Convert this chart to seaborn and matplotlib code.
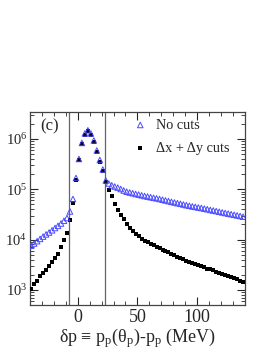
import numpy as np
import pandas as pd
import matplotlib
matplotlib.use("Agg")
import matplotlib.pyplot as plt
import seaborn as sns
from matplotlib.ticker import LogLocator, MultipleLocator, NullFormatter

# bin centres of delta p (MeV)
dp = np.arange(-39.0, 140.0, 2.5)

# counts without cuts (blue triangles)
no_cuts = [7530, 8366, 9290, 10320, 11480, 12690, 13840, 15310, 17010, 18790,
           20890, 23660, 26860, 36220, 64120, 167800, 401000, 836000, 1290000, 1490000,
           1290000, 936000, 590800, 382300, 247600, 149600, 130400, 120100, 113700, 108100,
           101400, 94650, 89600, 86340, 83600, 80700, 78500, 76000, 73600, 71600,
           69660, 67760, 66220, 64120, 62090, 60120, 58210, 56360, 54700, 52970,
           51520, 49890, 48310, 46990, 45710, 44670, 43450, 42460, 41300, 40180,
           38900, 37880, 36900, 35730, 34750, 33810, 32890, 31990, 31120, 30270,
           29450, 28510]

# counts with dx + dy cuts (black squares)
with_cuts = [1042, 1310, 1524, 1846, 2168, 2512, 2985, 3508, 4210, 5290,
             6970, 9820, 13520, 23990, 53400, 153000, 382000, 795700, 1229000, 1422000,
             1229000, 891600, 564200, 353800, 231100, 139600, 95900, 72600, 52200, 38770,
             30830, 25120, 20420, 17010, 14490, 12910, 11640, 10370, 9510, 8830,
             8250, 7640, 7190, 6740, 6350, 5930, 5540, 5170, 4830, 4570,
             4310, 4020, 3720, 3520, 3350, 3210, 3100, 2990, 2860, 2660,
             2570, 2440, 2320, 2180, 2090, 1995, 1897, 1804, 1724, 1633,
             1517, 1422]

cut_lines = [-7, 23]

df_nc = pd.DataFrame({"dp": dp, "counts": no_cuts})
df_wc = pd.DataFrame({"dp": dp, "counts": with_cuts})

sns.set_style("ticks")
plt.rcParams["font.family"] = ["Liberation Serif", "DejaVu Serif"]
plt.rcParams["mathtext.fontset"] = "custom"
plt.rcParams["mathtext.rm"] = "Liberation Serif"
plt.rcParams["mathtext.it"] = "Liberation Serif:italic"

fig = plt.figure(figsize=(2.7, 3.49), dpi=100)
ax = fig.add_axes([0.111, 0.126, 0.796, 0.553])

sns.scatterplot(x="dp", y="counts", data=df_wc, marker="s", color="black",
                s=10, linewidth=0, ax=ax, label="Δx + Δy cuts", zorder=3)
sns.scatterplot(x="dp", y="counts", data=df_nc, marker="^", facecolor="none",
                edgecolor="#4a4aff", s=16, linewidth=0.7, ax=ax, label="No cuts", zorder=4)

for xv in cut_lines:
    ax.axvline(xv, color="#666666", lw=0.9, zorder=1)

ax.set_yscale("log")
ax.set_xlim(-40, 140)
ax.set_ylim(500, 3.44e6)
ax.set_xlabel(r"δp ≡ p$_{\rm p}$(θ$_{\rm p}$)-p$_{\rm p}$ (MeV)", fontsize=13, labelpad=0)
ax.set_ylabel("")

ax.xaxis.set_major_locator(MultipleLocator(50))
ax.xaxis.set_minor_locator(MultipleLocator(10))
ax.yaxis.set_major_locator(LogLocator(base=10, numticks=10))
ax.yaxis.set_minor_locator(LogLocator(base=10, subs=np.arange(2, 10), numticks=10))
ax.yaxis.set_minor_formatter(NullFormatter())
ax.tick_params(which="both", direction="in", top=True, right=True, pad=2)
ax.tick_params(axis="x", labelsize=13, pad=3)
ax.tick_params(axis="y", labelsize=10.5)
ax.tick_params(which="major", length=6, width=0.8)
ax.tick_params(which="minor", length=3, width=0.6)
for sp in ax.spines.values():
    sp.set_linewidth(0.9)
    sp.set_color("#444444")

h, l = ax.get_legend_handles_labels()
ax.legend(h[::-1], l[::-1], loc="upper right", bbox_to_anchor=(0.955, 0.995),
          frameon=False, fontsize=10.3, handletextpad=0.5, handlelength=1.2,
          borderaxespad=0, labelspacing=0.7, markerscale=1.0)

ax.text(0.05, 0.965, "(c)", transform=ax.transAxes, fontsize=12, va="top", ha="left")

fig.savefig("out.png", dpi=100)
